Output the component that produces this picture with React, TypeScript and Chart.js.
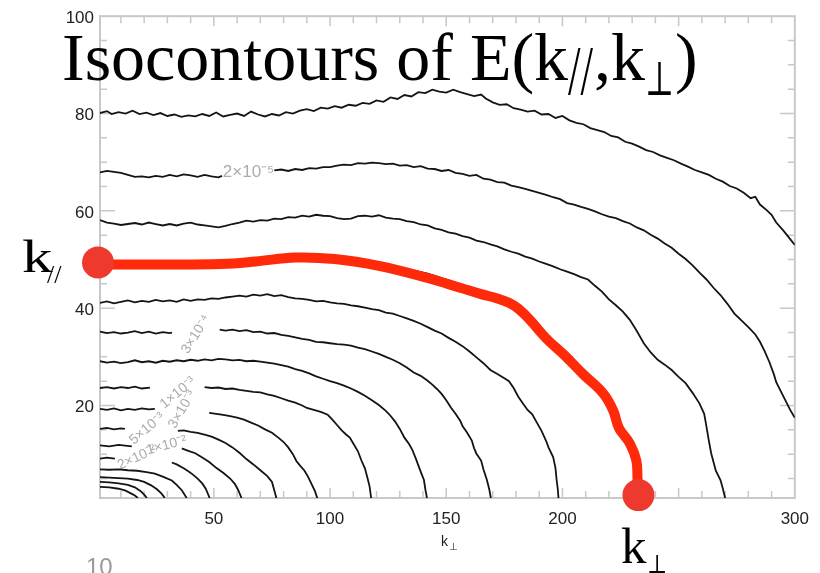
import React, { useEffect, useRef } from 'react';
import { Chart, registerables } from 'chart.js';
Chart.register(...registerables);

type P = [number, number];

// axis ranges and tick labels
const X_RANGE: P = [1, 300];
const Y_RANGE: P = [1, 100];
const X_TICK_LABELS = [50, 100, 150, 200, 300];
const Y_TICK_LABELS = [20, 40, 60, 80, 100];

// isocontours of E(k//, k_perp)
const CONTOUR_A: P[] = [[1,80.1],[4,80.5],[6,79.9],[9,80.3],[12,80.0],[15,80.6],[18,79.9],[21,80.2],[24,79.7],[27,80.1],[30,79.5],[33,79.8],[36,79.3],[39,79.6],[42,79.4],[45,79.9],[48,79.5],[51,80.2],[54,79.4],[57,79.7],[60,80.0],[63,79.5],[66,80.4],[69,79.8],[72,79.4],[75,79.9],[78,79.6],[81,80.3],[84,80.0],[87,80.6],[90,80.9],[93,80.5],[96,81.2],[99,81.0],[102,81.5],[105,81.2],[108,81.8],[111,81.6],[114,82.2],[117,82.0],[120,82.7],[123,82.4],[126,83.3],[129,83.0],[132,83.8],[135,83.5],[138,84.4],[141,84.2],[144,84.9],[147,84.5],[150,84.3],[153,84.9],[156,84.4],[159,84.0],[162,83.6],[165,83.9],[167,83.1],[170,82.3],[173,81.8],[176,81.9],[179,81.1],[182,80.8],[185,80.4],[188,80.6],[191,79.8],[194,79.9],[197,79.1],[200,79.5],[203,78.6],[206,78.1],[209,77.8],[212,77.0],[215,76.6],[218,76.2],[221,75.4],[224,75.1],[227,74.2],[230,73.8],[233,73.2],[236,72.5],[239,72.1],[242,71.4],[245,70.9],[248,70.4],[251,69.7],[254,69.1],[257,68.4],[260,67.9],[263,67.4],[266,66.6],[269,66.0],[272,65.1],[275,64.6],[278,63.7],[281,62.6],[283,62.9],[285,61.3],[288,60.1],[290,59.2],[292,57.6],[295,56.0],[298,54.2],[300,53.0]];
const CONTOUR_B1: P[] = [[1,67.9],[4,68.2],[7,68.0],[10,67.8],[13,67.4],[16,67.0],[19,67.1],[22,66.9],[25,67.2],[28,67.0],[31,67.4],[34,67.1],[37,67.5],[40,67.3],[43,67.0],[46,67.4],[49,67.1],[52,66.9],[53.5,67.2]];
const CONTOUR_B2: P[] = [[76,68.3],[79,68.5],[82,68.2],[85,68.6],[88,68.4],[91,68.8],[94,68.7],[97,69.0],[100,69.0],[103,69.3],[106,69.5],[109,69.4],[112,69.8],[115,69.7],[118,69.9],[121,69.8],[124,69.6],[127,69.7],[130,69.3],[133,69.4],[136,69.0],[139,69.2],[142,68.7],[145,68.6],[148,68.2],[151,68.4],[154,67.8],[157,67.6],[160,67.2],[163,67.4],[166,66.6],[169,66.4],[172,65.9],[175,65.8],[178,65.2],[181,64.9],[184,64.5],[187,64.1],[190,63.7],[193,63.3],[196,62.8],[199,62.4],[202,61.6],[205,61.3],[208,60.8],[211,60.4],[214,59.9],[217,59.3],[220,58.8],[223,58.5],[226,57.9],[229,57.4],[232,56.6],[235,56.0],[238,55.1],[241,54.3],[244,53.3],[247,52.4],[250,51.2],[253,50.1],[256,48.8],[259,47.3],[262,45.9],[265,44.2],[268,42.7],[271,40.9],[274,38.9],[277,37.5],[280,36.1],[283,34.6],[285,33.1],[287,31.2],[289,29.0],[291,26.4],[292,24.8],[294,22.9],[296,21.0],[298,19.1],[300,17.5]];
const CONTOUR_C: P[] = [[1,58.1],[4,57.6],[7,57.4],[10,57.1],[13,57.3],[16,57.5],[19,57.2],[22,57.6],[25,57.3],[28,57.0],[31,57.3],[34,57.0],[37,57.4],[40,57.6],[43,57.2],[46,57.0],[49,56.8],[52,56.6],[55,56.9],[58,57.3],[61,57.6],[64,58.0],[67,57.8],[70,58.1],[73,58.0],[76,58.4],[79,58.3],[82,58.7],[85,58.6],[88,59.0],[91,58.8],[94,59.2],[97,59.0],[100,58.9],[103,58.5],[106,58.3],[109,58.4],[112,58.9],[115,59.0],[118,58.8],[121,59.1],[124,58.6],[127,58.4],[130,58.3],[133,57.9],[136,57.7],[139,57.2],[142,57.0],[145,56.4],[148,56.1],[151,55.6],[154,55.3],[157,54.8],[160,54.5],[163,53.9],[166,53.6],[169,53.1],[172,52.7],[175,52.1],[178,51.6],[181,51.2],[184,50.6],[187,50.2],[190,49.6],[193,49.1],[196,48.6],[199,48.0],[202,47.5],[205,47.0],[208,46.4],[211,45.9],[214,44.6],[217,43.4],[220,41.8],[223,40.6],[226,39.3],[229,37.6],[232,35.3],[235,32.8],[238,30.9],[241,29.4],[244,28.4],[247,27.3],[250,25.9],[253,24.6],[256,22.6],[259,20.4],[261,18.3],[262,15.6],[263,12.8],[264,10.2],[265,8.4],[266,6.6],[268,4.7],[269,3.0],[270,1]];
const CONTOUR_D: P[] = [[1,49.5],[10,49.3],[20,49.6],[30,49.3],[40,49.5],[50,49.4],[60,49.8],[70,50.4],[80,50.9],[90,51.1],[100,50.8],[110,50.2],[121,49.4],[131,48.3],[142,47.1],[150,45.9],[158,44.6],[165,43.4],[172,42.2],[178,40.8],[183,38.8],[188,36.2],[194,33.2],[200,30.4],[208,27.0],[216,23.6],[221,20.3],[224,16.4],[227,13.3],[229,10.6],[231,7.5],[231.5,4.0],[231.5,1]];
const CONTOUR_E: P[] = [[1,41.1],[4,41.4],[7,41.0],[10,41.3],[13,41.6],[16,41.2],[19,41.5],[22,41.3],[25,41.7],[28,41.4],[31,41.6],[34,41.3],[37,41.8],[40,41.5],[43,41.8],[46,41.7],[49,42.0],[52,41.9],[55,42.2],[58,42.4],[61,42.6],[64,42.4],[67,42.8],[70,42.6],[73,42.9],[76,42.5],[79,42.7],[82,42.3],[85,42.0],[88,41.9],[91,41.7],[94,41.4],[97,41.5],[100,41.2],[103,41.0],[106,40.9],[109,40.6],[112,40.4],[115,40.1],[118,39.8],[121,39.6],[124,39.1],[127,38.9],[130,38.4],[133,37.9],[136,37.4],[139,36.8],[142,36.1],[145,35.4],[148,34.8],[151,33.9],[154,33.1],[157,32.2],[160,31.1],[163,29.9],[166,28.7],[169,27.3],[172,26.5],[175,25.6],[177,25.0],[179,23.6],[181,21.8],[183,20.4],[185,19.1],[187,18.2],[189,16.5],[191,14.8],[193,12.7],[194,11.4],[196,9.4],[197,7.2],[197.5,4.7],[198,2.8],[198.3,1]];
const CONTOUR_F1: P[] = [[1,35.2],[4,34.9],[7,35.1],[10,34.8],[13,35.0],[16,35.3],[19,34.9],[22,35.2],[25,34.8],[28,35.1],[31,34.9],[32,35.0]];
const CONTOUR_F2: P[] = [[52.5,35.6],[55,35.4],[58,35.6],[61,35.3],[64,35.5],[67,35.1],[70,35.2],[73,34.8],[76,34.9],[79,34.5],[82,34.3],[85,34.0],[88,33.7],[91,33.5],[94,33.1],[97,33.0],[100,32.8],[103,32.6],[106,32.5],[109,32.3],[112,31.9],[115,31.6],[118,31.1],[121,30.6],[124,30.0],[127,29.4],[130,28.7],[133,27.8],[136,26.8],[139,26.1],[142,25.1],[144,24.3],[146,23.4],[148,22.4],[150,21.1],[152,19.6],[154,18.3],[156,16.9],[157,15.8],[159,14.4],[161,12.8],[162,11.2],[163,10.1],[165,8.7],[166,6.9],[167.5,4.7],[168.5,2.8],[169.2,1]];
const CONTOUR_G: P[] = [[1,29.1],[4,28.8],[7,29.0],[10,28.7],[13,28.9],[16,29.3],[19,28.9],[22,29.1],[25,28.8],[28,29.2],[31,29.0],[34,29.3],[37,29.1],[40,29.4],[43,29.2],[46,29.5],[49,29.3],[52,29.6],[55,29.5],[58,29.3],[61,29.4],[64,29.1],[67,29.2],[70,29.0],[73,28.8],[76,28.6],[79,28.3],[82,28.0],[85,27.5],[88,27.1],[91,26.6],[94,26.0],[97,25.5],[100,25.0],[103,24.6],[106,24.1],[109,23.5],[112,22.8],[115,22.0],[118,21.1],[121,20.1],[124,18.9],[126,17.9],[128,16.7],[130,15.2],[132,13.4],[134,12.1],[135.5,10.8],[137,9.0],[138.3,7.3],[139.5,5.8],[140.4,4.7],[141,2.8],[141.7,1]];
const CONTOUR_H1: P[] = [[1,23.6],[4,23.8],[7,23.5],[10,23.8],[13,23.6],[16,23.9],[19,23.5],[22.5,23.7]];
const CONTOUR_H2: P[] = [[46,23.8],[49,23.6],[52,23.7],[55,23.4],[58,23.5],[61,23.2],[64,23.0],[67,22.8],[70,22.7],[73,22.3],[76,22.0],[79,21.5],[82,21.0],[85,20.6],[88,20.0],[90,19.5],[93,19.1],[96,18.7],[99,18.1],[101,17.1],[103,16.0],[105,14.9],[107,14.0],[108.5,13.4],[110,12.2],[112,10.6],[113.5,8.7],[115,7.1],[116,5.3],[117,3.4],[117.7,1]];
const CONTOUR_I1: P[] = [[1,19.3],[4,19.1],[7,19.4],[10,19.0],[13,19.3],[16,19.1],[19,19.4],[22,19.2],[24.6,19.3]];
const CONTOUR_I2: P[] = [[48,18.5],[51,18.3],[54,18.1],[57,17.8],[60,17.5],[63,17.1],[66,16.5],[69,15.9],[72,15.1],[75,14.4],[78,13.3],[80,12.5],[82,11.4],[84,10.0],[85.5,8.6],[87,7.7],[89,6.6],[90.5,5.4],[92,3.9],[93.5,2.4],[94.5,1]];
const CONTOUR_J1: P[] = [[1,15.2],[4,15.4],[7,15.1],[10,15.3],[11.7,15.2]];
const CONTOUR_J2: P[] = [[34.5,14.8],[37,14.9],[40,14.6],[43,14.4],[46,14.0],[49,13.6],[52,13.0],[55,12.3],[58,11.4],[61,10.3],[64,9.0],[67,7.9],[70,6.7],[73,5.5],[75,4.3],[76,2.6],[76.9,1]];
const CONTOUR_K1: P[] = [[1,11.8],[5,11.6],[9,11.9],[14.7,11.6]];
const CONTOUR_K2: P[] = [[36.2,11.2],[39,10.7],[42,10.2],[45,9.3],[48,8.4],[51,7.2],[54,6.2],[57,5.0],[59,3.9],[60.5,2.6],[61.9,1]];
const CONTOUR_L1: P[] = [[1,9.1],[4,9.3],[7.4,9.1]];
const CONTOUR_L2: P[] = [[31.9,8.3],[34,7.9],[37,7.1],[39,6.5],[41,5.8],[43,5.0],[45,4.0],[46.5,2.9],[48.2,1]];
const CONTOUR_M: P[] = [[1,6.9],[5,6.8],[9,6.9],[13,6.7],[17,6.6],[21,6.3],[24.6,6.0],[28,5.4],[31.9,4.6],[34,3.7],[36.2,2.6],[38.3,1]];
const CONTOUR_N: P[] = [[1,5.3],[5,5.2],[9,5.1],[13,5.0],[17,4.7],[20,4.3],[23,3.6],[25.5,2.8],[27.5,1.9],[28.9,1]];
const CONTOUR_O: P[] = [[1,4.3],[5,4.2],[9,4.0],[13,3.7],[16,3.2],[18.5,2.4],[20,1.7],[21.2,1]];
const CONTOUR_P: P[] = [[1,3.3],[5,3.2],[9,2.9],[12,2.5],[14.5,1.9],[16,1.5],[17.3,1]];

const CONTOURS: P[][] = [
  CONTOUR_A, CONTOUR_B1, CONTOUR_B2, CONTOUR_C, CONTOUR_D, CONTOUR_E, CONTOUR_F1, CONTOUR_F2,
  CONTOUR_G, CONTOUR_H1, CONTOUR_H2, CONTOUR_I1, CONTOUR_I2, CONTOUR_J1, CONTOUR_J2,
  CONTOUR_K1, CONTOUR_K2, CONTOUR_L1, CONTOUR_L2, CONTOUR_M, CONTOUR_N, CONTOUR_O, CONTOUR_P,
];

// red path drawn over the contours, with its two end points
const RED_PATH: P[] = [[1,49.0],[25,49.0],[53,49.1],[68,49.6],[85,50.4],[102,50.1],[121,48.7],[142,46.2],[156,44.2],[165,42.9],[172,42.0],[177,41.1],[181,39.9],[186,37.6],[193,33.8],[200.5,30.5],[209,26.4],[217.7,22.4],[221.9,18.9],[224.3,15.4],[229,12.2],[231.8,8.7],[232.3,5.0],[232.5,2.0]];
const RED_DOTS: P[] = [[0.14, 49.4], [232.7, 1.6]];

// contour level labels
const LEVEL_TEXTS = ['2×10⁻⁵', '3×10⁻⁴', '1×10⁻³', '3×10⁻³', '5×10⁻³', '1×10⁻²', '2×10⁻²'];
const LEVEL_X = [64.9, 42.3, 34.5, 36.4, 21.2, 29.7, 16.9];
const LEVEL_Y = [67.9, 34.6, 22.6, 19.2, 15.2, 11.8, 9.3];
const LEVEL_ANGLE = [0, -58, -40, -60, -40, -15, -25];

const SERIF = '"Liberation Serif", "Times New Roman", serif';
const SANS = '"Liberation Sans", Arial, Helvetica, sans-serif';

const overlay = {
  id: 'overlay',
  beforeDatasetsDraw(chart: any) {
    const { ctx, chartArea: a, scales } = chart;
    const xs = scales.x, ys = scales.y;
    ctx.save();
    ctx.strokeStyle = '#c8c8c8';
    ctx.lineWidth = 2;
    ctx.strokeRect(a.left, a.top, a.right - a.left, a.bottom - a.top);
    ctx.lineWidth = 1.5;
    ctx.beginPath();
    for (let v = 10; v < 300; v += 10) {
      const px = xs.getPixelForValue(v);
      const len = v % 50 === 0 ? 10 : 7;
      ctx.moveTo(px, a.bottom); ctx.lineTo(px, a.bottom - len);
      ctx.moveTo(px, a.top); ctx.lineTo(px, a.top + len);
    }
    for (let v = 5; v < 100; v += 5) {
      const py = ys.getPixelForValue(v);
      const len = v % 20 === 0 ? 15 : 7;
      ctx.moveTo(a.left, py); ctx.lineTo(a.left + len, py);
      ctx.moveTo(a.right, py); ctx.lineTo(a.right - len, py);
    }
    ctx.stroke();
    // level labels
    ctx.fillStyle = '#ababab';
    ctx.textAlign = 'center';
    ctx.textBaseline = 'middle';
    LEVEL_TEXTS.forEach((t, i) => {
      ctx.save();
      ctx.translate(xs.getPixelForValue(LEVEL_X[i]), ys.getPixelForValue(LEVEL_Y[i]));
      ctx.rotate((LEVEL_ANGLE[i] * Math.PI) / 180);
      ctx.font = (i === 0 ? '17px ' : '14px ') + SANS;
      ctx.fillText(t, 0, 0);
      ctx.restore();
    });
    ctx.restore();
  },
  afterDraw(chart: any) {
    const { ctx } = chart;
    ctx.save();
    ctx.fillStyle = '#000';
    ctx.textAlign = 'left';
    ctx.textBaseline = 'alphabetic';
    // title
    let x = 62;
    ctx.font = '68px ' + SERIF;
    const main = 'Isocontours of E(k';
    ctx.fillText(main, x, 80);
    x += ctx.measureText(main).width;
    ctx.font = '70px ' + SERIF;
    ctx.fillText('//', x, 94, 25);
    x += 26;
    ctx.font = '68px ' + SERIF;
    ctx.fillText(',k', x, 80);
    x += ctx.measureText(',k').width;
    ctx.font = '48px "DejaVu Serif", ' + SERIF;
    ctx.fillText('⊥', x, 95, 29);
    x += 30;
    ctx.font = '68px ' + SERIF;
    ctx.fillText(')', x, 80);
    // k// on the left
    ctx.save();
    ctx.translate(22, 272);
    ctx.scale(1.3, 1);
    ctx.font = '47px ' + SERIF;
    ctx.fillText('k', 0, 0);
    ctx.restore();
    ctx.font = '26px ' + SERIF;
    ctx.fillText('//', 47, 283);
    // k⊥ at the bottom
    ctx.font = '51px ' + SERIF;
    ctx.fillText('k', 621, 563);
    ctx.font = '26px "DejaVu Serif", ' + SERIF;
    ctx.fillText('⊥', 647, 573, 20);
    // axis title
    ctx.font = '14px ' + SANS;
    ctx.fillStyle = '#222';
    ctx.fillText('k', 441, 546);
    ctx.font = '10px "DejaVu Sans", ' + SANS;
    ctx.fillText('⊥', 449, 550);
    // fragment at bottom left
    ctx.fillStyle = '#9a9a9a';
    ctx.font = '24px ' + SANS;
    ctx.fillText('10', 86, 575);
    ctx.restore();
  },
};

export default function App() {
  const ref = useRef<HTMLCanvasElement>(null);
  useEffect(() => {
    if (!ref.current) return;
    const toXY = (arr: P[]) => arr.map(([x, y]) => ({ x, y }));
    const datasets: any[] = [
      {
        data: toXY(RED_DOTS), showLine: false, pointRadius: 16, pointHoverRadius: 16,
        pointBackgroundColor: '#ee3a2e', pointBorderWidth: 0, borderColor: '#ee3a2e', clip: false,
      },
      {
        data: toXY(RED_PATH), borderColor: '#ff2a0a', borderWidth: 10, tension: 0.4,
        borderCapStyle: 'round', borderJoinStyle: 'round', pointRadius: 0, clip: false,
      },
      ...CONTOURS.map((c) => ({
        data: toXY(c), borderColor: '#141414', borderWidth: 1.8, tension: 0, pointRadius: 0,
      })),
    ];
    const chart = new Chart(ref.current, {
      type: 'line',
      data: { datasets },
      options: {
        animation: false,
        responsive: false,
        devicePixelRatio: 1,
        layout: { padding: { left: 0, right: 23, top: 11, bottom: 0 } },
        plugins: { legend: { display: false }, tooltip: { enabled: false } },
        scales: {
          x: {
            type: 'linear', min: X_RANGE[0], max: X_RANGE[1],
            grid: { display: false, drawTicks: false },
            border: { display: true, color: '#c8c8c8', width: 2 },
            ticks: { padding: 11, color: '#222', font: { family: SANS, size: 17 }, maxRotation: 0, autoSkip: false },
            afterBuildTicks: (s: any) => { s.ticks = X_TICK_LABELS.map((v) => ({ value: v })); },
            afterFit: (s: any) => { s.height = 75; },
          },
          y: {
            type: 'linear', min: Y_RANGE[0], max: Y_RANGE[1],
            grid: { display: false, drawTicks: false },
            border: { display: true, color: '#c8c8c8', width: 2 },
            ticks: { padding: 6, color: '#222', font: { family: SANS, size: 17 }, labelOffset: 2 },
            afterBuildTicks: (s: any) => { s.ticks = Y_TICK_LABELS.map((v) => ({ value: v })); },
            afterFit: (s: any) => { s.width = 100; },
          },
        },
      } as any,
      plugins: [overlay],
    });
    return () => chart.destroy();
  }, []);
  return (
    <div style={{ position: 'fixed', left: 0, top: 0, width: 820, height: 573, background: '#fff' }}>
      <canvas ref={ref} width={820} height={573} style={{ width: 820, height: 573 }} />
    </div>
  );
}
